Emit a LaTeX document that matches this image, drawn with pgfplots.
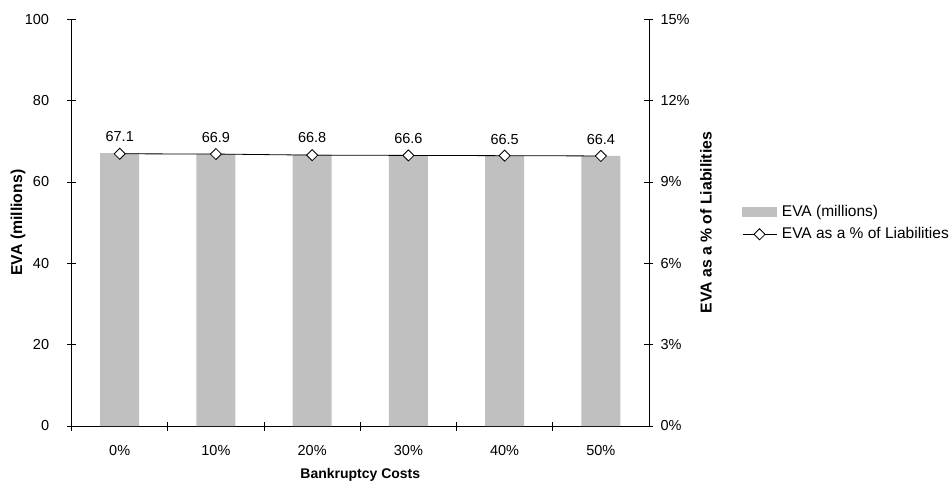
\documentclass[border=0pt]{standalone}
\usepackage{fontspec}
\setmainfont{Liberation Sans}
\usepackage{pgfplots}
\pgfplotsset{compat=1.18}
\definecolor{barfill}{HTML}{C0C0C0}
\begin{document}
\fontsize{14.5bp}{17bp}\selectfont
\begin{tikzpicture}
\useasboundingbox (-71.6bp,-57bp) rectangle (879.4bp,426bp);
\pgfplotsset{
  common/.style={
    at={(0,0)}, anchor=south west, scale only axis,
    width=577.4bp, height=406.7bp,
    xmin=-0.5, xmax=5.5,
    tick align=center, major tick length=9bp,
    axis line style={line width=0.8bp, black},
    tick style={line width=0.8bp, black},
    /pgf/number format/assume math mode=true,
    tick label style={font=\fontsize{14.5bp}{17bp}\selectfont},
  }
}
\begin{axis}[common,
  ymin=0, ymax=100,
  axis y line*=left, axis x line*=bottom,
  xtick={-0.5,0.5,1.5,2.5,3.5,4.5},
  xticklabels={0\%,10\%,20\%,30\%,40\%,50\%},
  xticklabel style={xshift=48.1bp, yshift=-10bp},
  ytick={0,20,40,60,80,100},
  yticklabel style={xshift=-13bp},
  xlabel={Bankruptcy Costs},
  ylabel={EVA (millions)},
  every axis x label/.style={at={(axis description cs:0.5,-0.1205)}, anchor=center,
    font=\fontsize{14bp}{17bp}\selectfont\bfseries},
  every axis y label/.style={at={(axis description cs:-0.0928,0.5)}, rotate=90, anchor=center,
    font=\fontsize{15.8bp}{19bp}\selectfont\bfseries},
]
\addplot[ybar, bar width=0.405, fill=barfill, draw=none,
  nodes near coords={\pgfmathprintnumber[fixed,fixed zerofill,precision=1,assume math mode=true]{\pgfplotspointmeta}},
  every node near coord/.append style={anchor=center, yshift=16.5bp, black, font=\fontsize{14.5bp}{17bp}\selectfont},
] coordinates {(0,67.1) (1,66.9) (2,66.8) (3,66.6) (4,66.5) (5,66.4)};
\end{axis}
\begin{axis}[common,
  ymin=0, ymax=15,
  axis y line*=right, axis x line=none,
  ytick={0,3,6,9,12,15},
  yticklabel={\pgfmathprintnumber{\tick}\%},
  yticklabel style={xshift=2bp},
  ylabel={EVA as a \% of Liabilities},
  every axis y label/.style={at={(axis description cs:1.0987,0.5)}, rotate=90, anchor=center,
    font=\fontsize{15.8bp}{19bp}\selectfont\bfseries},
  legend style={at={(axis description cs:1.161,0.499)}, anchor=west, draw=none, fill=none,
    inner sep=0pt, font=\fontsize{15.5bp}{18bp}\selectfont, row sep=7bp,
    nodes={inner sep=1bp},
    /tikz/every odd column/.append style={column sep=4bp}},
  legend cell align=left,
]
\addlegendimage{legend image code/.code={\fill[barfill] (0bp,-4.7bp) rectangle (34bp,4.7bp);}}
\addlegendentry{EVA (millions)}
\addplot[black, line width=0.8bp, mark=square*, mark size=3.9bp,
  mark options={fill=white, rotate=45, line width=0.8bp},
  legend image code/.code={\draw[mark repeat=2, mark phase=2] plot coordinates {(0bp,0bp) (17bp,0bp) (34bp,0bp)};}
] coordinates {(0,10.04) (1,10.03) (2,9.99) (3,9.98) (4,9.97) (5,9.96)};
\addlegendentry{EVA as a \% of Liabilities}
\end{axis}
\end{tikzpicture}
\end{document}
